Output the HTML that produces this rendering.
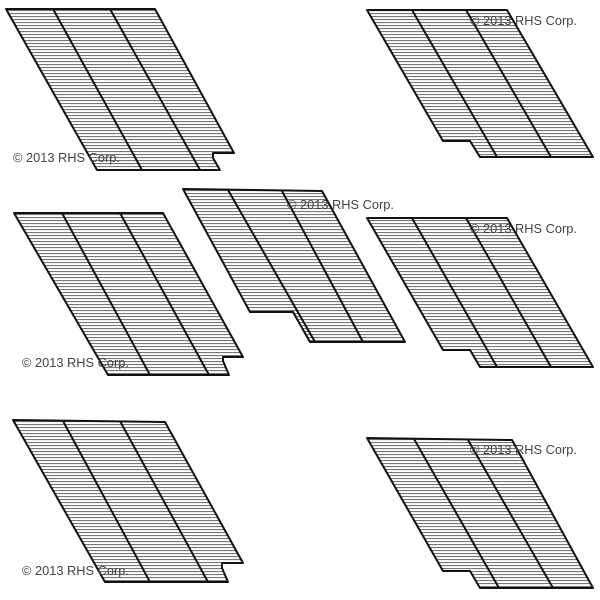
<!DOCTYPE html>
<html><head><meta charset="utf-8"><style>
html,body{margin:0;padding:0;background:#fff;}
svg{display:block;}
text{font-family:"Liberation Sans",sans-serif;font-size:12.8px;fill:#444;}
</style></head><body>
<svg width="600" height="600" viewBox="0 0 600 600" xmlns="http://www.w3.org/2000/svg">
<defs>
<pattern id="h" width="6" height="3" patternUnits="userSpaceOnUse">
<rect width="6" height="3" fill="#fff"/>
<rect y="1" width="6" height="1.1" fill="#777"/>
</pattern>
</defs>
<g stroke="#111" stroke-width="2" stroke-linejoin="round" fill="url(#h)">
<polygon points="6,9 155,9 234,153 213,153 213,158 220,170 97,170"/>
<polygon points="367,10 507,10 593,157 480,157 470,141 443,141"/>
<polygon points="14,213 163,213 243,357 223,357 223,361 229,375 108,375"/>
<polygon points="183,189 322,191 405,342 310,342 293,312 250,312"/>
<polygon points="367,218 507,218 593,367 480,367 470,350 443,350"/>
<polygon points="13,420 165,422 243,563 222,563 222,568 228,582 105,582"/>
<polygon points="367,438 512,440 593,588 480,588 470,571 443,571"/>
</g>
<g stroke="#111" stroke-width="2">
<line x1="53" y1="9" x2="142" y2="170"/><line x1="110" y1="9" x2="200" y2="170"/>
<line x1="412" y1="10" x2="497" y2="157"/><line x1="466" y1="10" x2="551" y2="157"/>
<line x1="62" y1="213" x2="150" y2="375"/><line x1="120" y1="213" x2="209" y2="375"/>
<line x1="228" y1="190" x2="315" y2="342"/><line x1="282" y1="191" x2="363" y2="342"/>
<line x1="412" y1="218" x2="497" y2="367"/><line x1="466" y1="218" x2="551" y2="367"/>
<line x1="63" y1="421" x2="150" y2="582"/><line x1="120" y1="421" x2="208" y2="582"/>
<line x1="414" y1="439" x2="499" y2="588"/><line x1="468" y1="440" x2="553" y2="588"/>
</g>
<text x="13" y="162">© 2013 RHS Corp.</text>
<text x="470" y="25">© 2013 RHS Corp.</text>
<text x="287" y="209">© 2013 RHS Corp.</text>
<text x="22" y="367">© 2013 RHS Corp.</text>
<text x="470" y="233">© 2013 RHS Corp.</text>
<text x="22" y="575">© 2013 RHS Corp.</text>
<text x="470" y="454">© 2013 RHS Corp.</text>
</svg>
</body></html>
